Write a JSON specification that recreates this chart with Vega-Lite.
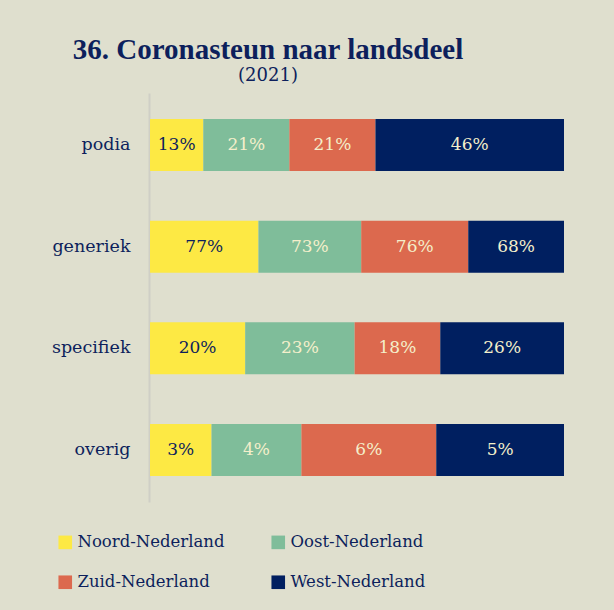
{
  "$schema": "https://vega.github.io/schema/vega-lite/v6.json",
  "width": 414,
  "height": 409,
  "autosize": {"type": "none"},
  "padding": {"left": 150, "top": 93, "right": 50, "bottom": 108},
  "background": "#dfdfce",
  "title": {
    "text": "36. Coronasteun naar landsdeel",
    "subtitle": "(2021)",
    "anchor": "middle",
    "frame": "group",
    "dx": -89,
    "offset": 8,
    "font": "Liberation Serif",
    "fontSize": 29,
    "fontWeight": "bold",
    "color": "#0d1f5c",
    "subtitleFont": "DejaVu Serif",
    "subtitleFontSize": 18,
    "subtitleColor": "#0d1f5c",
    "subtitlePadding": 2
  },
  "data": {
    "values": [
      {"categorie": "podia", "landsdeel": "Noord-Nederland", "aandeel": 0.13},
      {"categorie": "podia", "landsdeel": "Oost-Nederland", "aandeel": 0.21},
      {"categorie": "podia", "landsdeel": "Zuid-Nederland", "aandeel": 0.21},
      {"categorie": "podia", "landsdeel": "West-Nederland", "aandeel": 0.46},
      {"categorie": "generiek", "landsdeel": "Noord-Nederland", "aandeel": 0.77},
      {"categorie": "generiek", "landsdeel": "Oost-Nederland", "aandeel": 0.73},
      {"categorie": "generiek", "landsdeel": "Zuid-Nederland", "aandeel": 0.76},
      {"categorie": "generiek", "landsdeel": "West-Nederland", "aandeel": 0.68},
      {"categorie": "specifiek", "landsdeel": "Noord-Nederland", "aandeel": 0.20},
      {"categorie": "specifiek", "landsdeel": "Oost-Nederland", "aandeel": 0.23},
      {"categorie": "specifiek", "landsdeel": "Zuid-Nederland", "aandeel": 0.18},
      {"categorie": "specifiek", "landsdeel": "West-Nederland", "aandeel": 0.26},
      {"categorie": "overig", "landsdeel": "Noord-Nederland", "aandeel": 0.026},
      {"categorie": "overig", "landsdeel": "Oost-Nederland", "aandeel": 0.038},
      {"categorie": "overig", "landsdeel": "Zuid-Nederland", "aandeel": 0.057},
      {"categorie": "overig", "landsdeel": "West-Nederland", "aandeel": 0.054}
    ]
  },
  "transform": [
    {"calculate": "indexof(['Noord-Nederland','Oost-Nederland','Zuid-Nederland','West-Nederland'], datum.landsdeel)", "as": "volgorde"}
  ],
  "encoding": {
    "y": {
      "field": "categorie",
      "type": "nominal",
      "sort": ["podia", "generiek", "specifiek", "overig"],
      "scale": {"paddingInner": 0.489, "paddingOuter": 0.256},
      "axis": {
        "title": null,
        "ticks": false,
        "labelFont": "DejaVu Serif",
        "labelFontSize": 17.5,
        "labelColor": "#0d1f5c",
        "labelPadding": 19,
        "domainColor": "#cfcfc6",
        "domainWidth": 2,
        "offset": 1
      }
    },
    "x": {
      "field": "aandeel",
      "type": "quantitative",
      "stack": "normalize",
      "axis": null
    },
    "order": {"field": "volgorde", "type": "quantitative", "sort": "ascending"}
  },
  "layer": [
    {
      "mark": {"type": "bar"},
      "encoding": {
        "color": {
          "field": "landsdeel",
          "type": "nominal",
          "scale": {
            "domain": ["Noord-Nederland", "Oost-Nederland", "Zuid-Nederland", "West-Nederland"],
            "range": ["#fde944", "#7fbd9a", "#dc694e", "#001f60"]
          },
          "legend": {
            "title": null,
            "orient": "none",
            "legendX": -93,
            "legendY": 441,
            "columns": 2,
            "direction": "horizontal",
            "symbolType": "square",
            "symbolSize": 185,
            "symbolStrokeWidth": 0,
            "labelFont": "DejaVu Serif",
            "labelFontSize": 16.5,
            "labelColor": "#0d1f5c",
            "labelOffset": 4,
            "columnPadding": 45,
            "rowPadding": 23,
            "labelLimit": 300
          }
        }
      }
    },
    {
      "mark": {"type": "text", "font": "DejaVu Serif", "fontSize": 17},
      "encoding": {
        "x": {
          "field": "aandeel",
          "type": "quantitative",
          "stack": "normalize",
          "bandPosition": 0.5
        },
        "detail": {"field": "landsdeel", "type": "nominal"},
        "text": {"field": "aandeel", "type": "quantitative", "format": ".0%"},
        "color": {
          "condition": {"test": "datum.landsdeel === 'Noord-Nederland'", "value": "#0d1f5c"},
          "value": "#f4efcb"
        }
      }
    }
  ],
  "config": {
    "view": {"stroke": null}
  }
}
